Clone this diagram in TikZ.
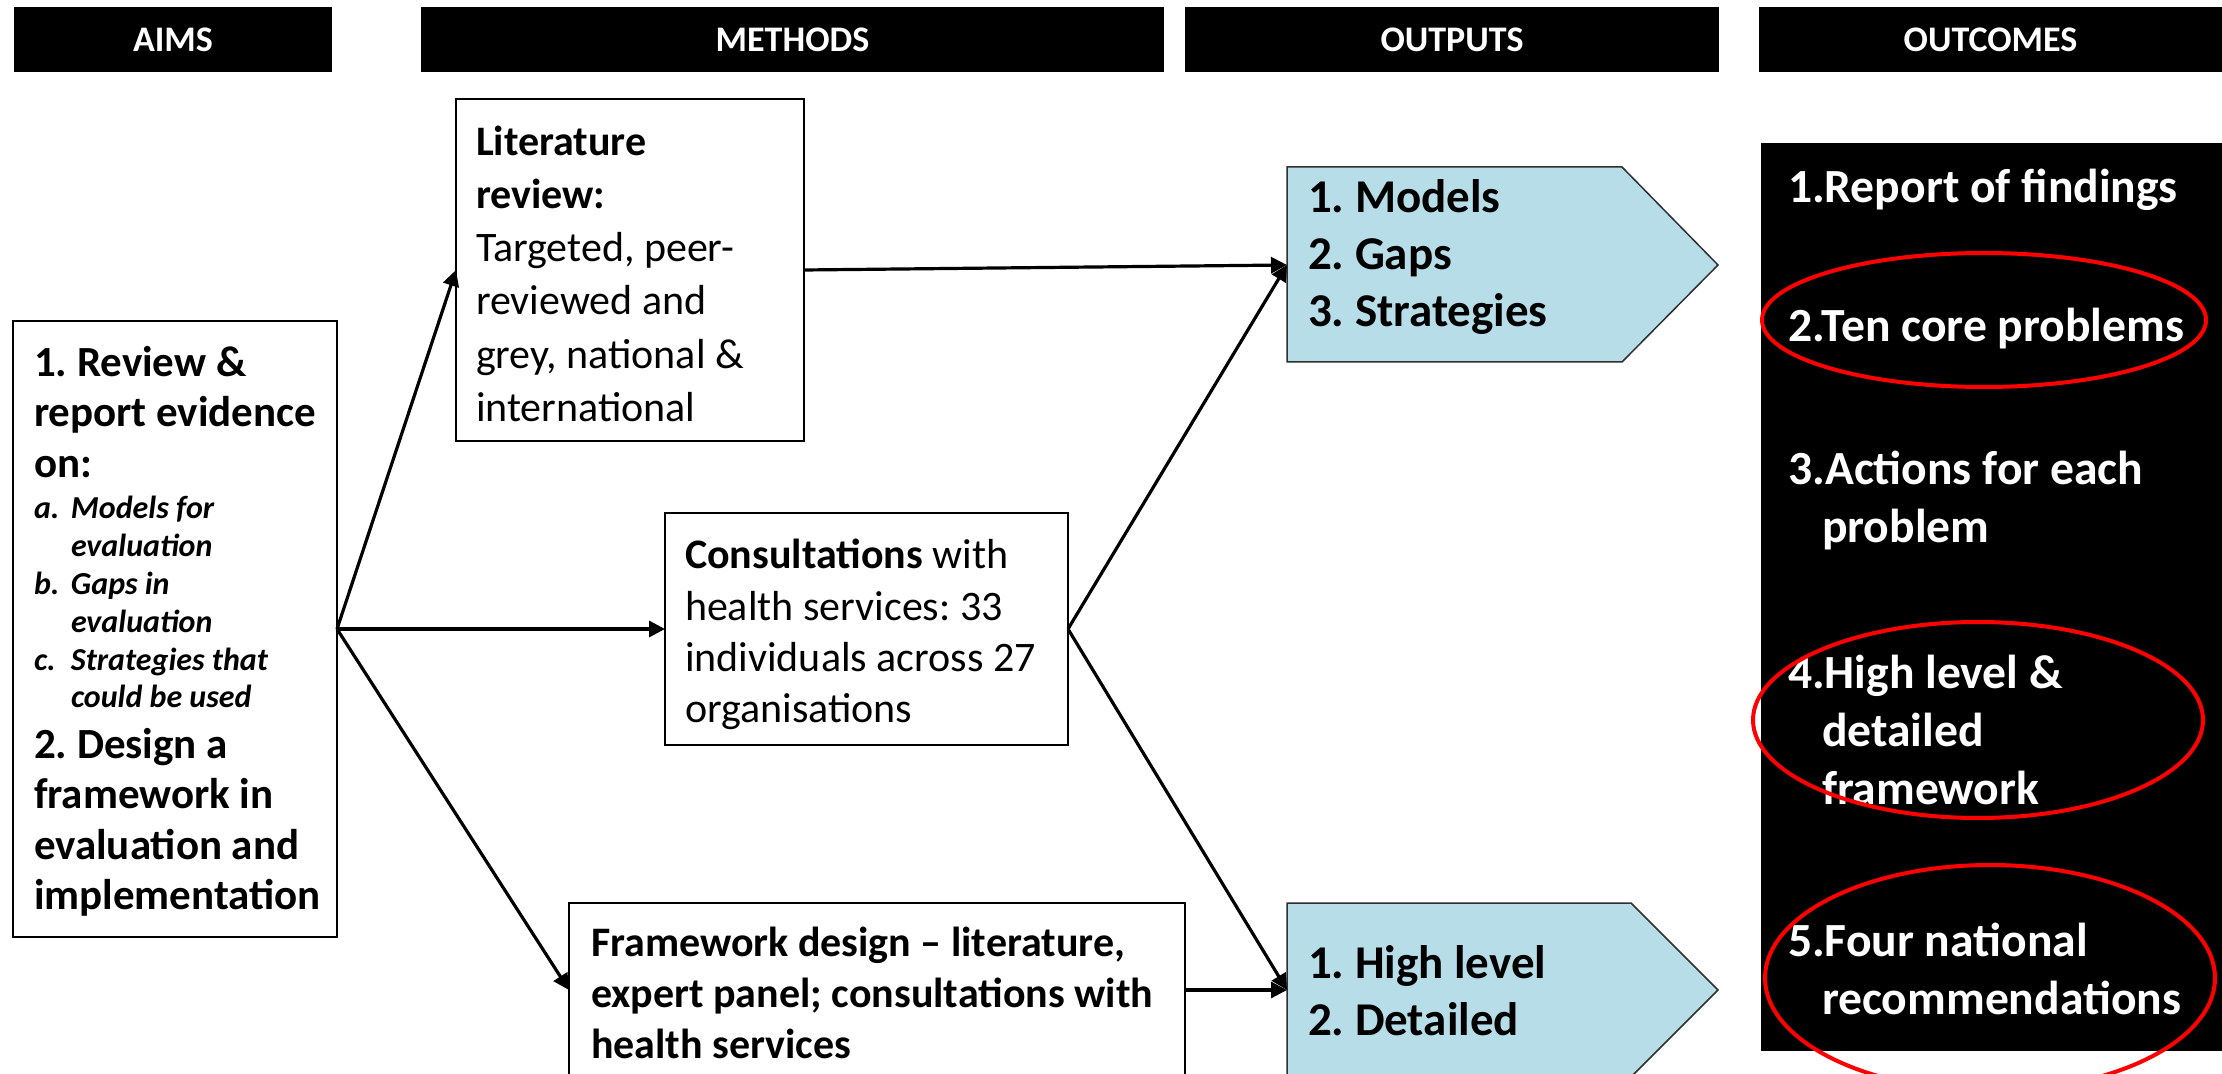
\documentclass[tikz,border=0pt]{standalone}
\usepackage{fontspec}
\setmainfont{Carlito}
\usetikzlibrary{arrows.meta}
\definecolor{outblue}{HTML}{B7DEE8}
\definecolor{outline}{HTML}{2F2F2F}
\frenchspacing
\begin{document}
\begin{tikzpicture}[x=0.5pt,y=-0.5pt,
  hdr/.style={fill=black, text=white, font=\fontsize{18}{21}\selectfont\bfseries, inner sep=0pt, outer sep=0pt, minimum height=32.5pt},
  boxframe/.style={draw=black, line width=1.25pt, fill=white, inner sep=0pt, outer sep=0pt, anchor=north west},
  txt/.style={anchor=north west, inner sep=0pt, outer sep=0pt, align=flush left, execute at begin node=\frenchspacing},
  otxt/.style={txt, text=white, text width=225pt, font=\fontsize{23.8}{29}\selectfont\bfseries},
  arr/.style={line width=1.6pt, -{Triangle[length=8pt,width=8pt]}},
  ring/.style={draw=red, line width=2pt},
  pent/.style={fill=outblue, draw=outline, line width=0.75pt},
]
\clip (0,0) rectangle (2222,1074);
\fill[white] (0,0) rectangle (2222,1074);

% headers
\node[hdr, minimum width=159pt] (hA) at (173,39.5) {AIMS};
\node[hdr, minimum width=371.5pt] (hM) at (792.5,39.5) {METHODS};
\node[hdr, minimum width=267pt] (hO) at (1452,39.5) {OUTPUTS};
\node[hdr, minimum width=231.5pt] (hC) at (1990.5,39.5) {OUTCOMES};

% aims
\node[boxframe, minimum width=162pt, minimum height=308pt] (aimsbox) at (13,321) {};
\node[txt, text width=155pt, font=\fontsize{21.5}{25.2}\selectfont\bfseries] (aimstxt) at (34,341) {\strut 1. Review \&\\ report evidence\\ on:\par
\vspace{2pt}
{\fontsize{16}{18.9}\selectfont\itshape
\makebox[18.5pt][l]{a.}Models for\\ \hspace*{18.5pt}evaluation\\
\makebox[18.5pt][l]{b.}Gaps in\\ \hspace*{18.5pt}evaluation\\
\makebox[18.5pt][l]{c.}Strategies that\\ \hspace*{18.5pt}could be used\par}
2. Design a\\ framework in\\ evaluation and\\ implementation};

% methods
\node[boxframe, minimum width=174pt, minimum height=171pt] (litbox) at (456,99) {};
\node[txt, text width=170pt, font=\fontsize{21}{26.6}\selectfont] (littxt) at (476,118) {\strut\textbf{Literature}\\ \textbf{review:}\\ Targeted, peer-\\ reviewed and\\ grey, national \&\\ international};

\node[boxframe, minimum width=201.5pt, minimum height=116pt] (conbox) at (665,513) {};
\node[txt, text width=195pt, font=\fontsize{21}{25.6}\selectfont] (contxt) at (685,533) {\strut\textbf{Consultations} with\\ health services: 33\\ individuals across 27\\ organisations};

\node[boxframe, minimum width=308pt, minimum height=87pt] (frbox) at (569,903) {};
\node[txt, text width=300pt, font=\fontsize{21}{25.5}\selectfont\bfseries] (frtxt) at (591,921) {\strut Framework design -- literature,\\ expert panel; consultations with\\ health services};

% outputs
\path[pent] (1287,167) -- (1622,167) -- (1718,265) -- (1622,362) -- (1287,362) -- cycle;
\coordinate (out1w) at (1287,265);
\node[txt, text width=200pt, font=\fontsize{23.5}{28.5}\selectfont\bfseries] (out1) at (1308,173) {\strut 1. Models\\ 2. Gaps\\ 3. Strategies};

\path[pent] (1287,903) -- (1631,903) -- (1718,990) -- (1631,1077) -- (1287,1077) -- cycle;
\coordinate (out2w) at (1287,990);
\node[txt, text width=200pt, font=\fontsize{23.5}{28.5}\selectfont\bfseries] (out2) at (1308,939) {\strut 1. High level\\ 2. Detailed};

% outcomes
\node[fill=black, inner sep=0pt, outer sep=0pt, anchor=north west, minimum width=230.5pt, minimum height=454pt] (outbox) at (1761,143) {};
\node[otxt] (oc1) at (1788,162) {\strut 1.Report of findings};
\node[otxt] (oc2) at (1788,301.4) {\strut 2.Ten core problems};
\node[otxt] (oc3) at (1788,444.4) {\strut 3.Actions for each\\ \hspace*{17pt}problem};
\node[otxt] (oc4) at (1788,648) {\strut 4.High level \&\\ \hspace*{17pt}detailed\\ \hspace*{17pt}framework};
\node[otxt] (oc5) at (1788,916) {\strut 5.Four national\\ \hspace*{17pt}recommendations};

\draw[ring] (1984,320) ellipse [x radius=222, y radius=67];
\draw[ring] (1978,720) ellipse [x radius=225, y radius=98];
\draw[ring] (1990,978) ellipse [x radius=225, y radius=113];

% connectors
\draw[arr] (aimsbox.east) -- (litbox.west);
\draw[arr] (aimsbox.east) -- (conbox.west);
\draw[arr] (aimsbox.east) -- (frbox.west);
\draw[arr] (litbox.east) -- (out1w);
\draw[arr] (conbox.east) -- (out1w);
\draw[arr] (conbox.east) -- (out2w);
\draw[arr] (frbox.east) -- (out2w);
\end{tikzpicture}
\end{document}
